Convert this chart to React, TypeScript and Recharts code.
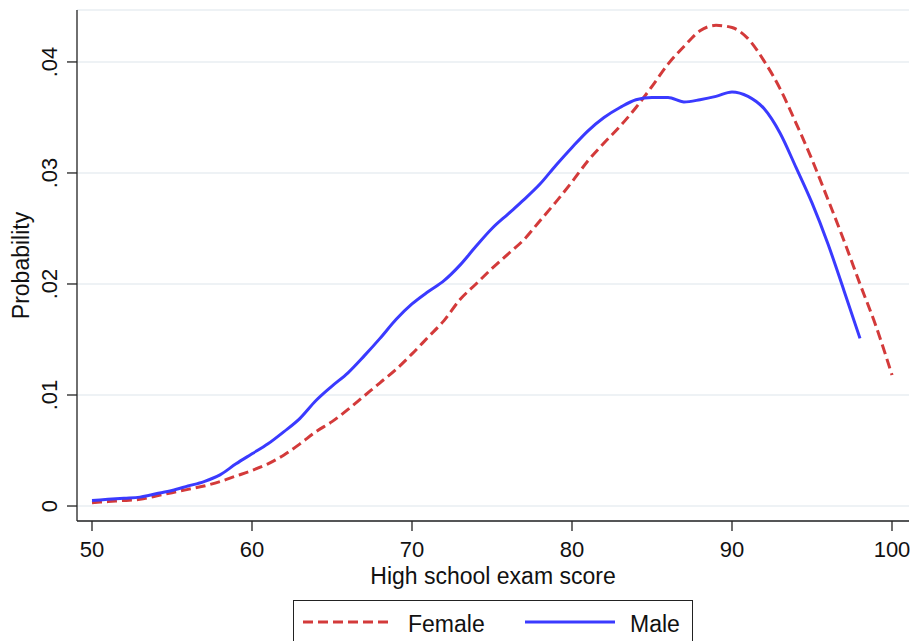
import React from "react";
import { CartesianGrid, Line, LineChart, XAxis, YAxis } from "recharts";

const scores = [
  50, 51, 52, 53, 54, 55, 56, 57, 58, 59, 60, 61, 62, 63, 64, 65, 66, 67, 68, 69, 70, 71, 72, 73, 74, 75,
  76, 77, 78, 79, 80, 81, 82, 83, 84, 85, 86, 87, 88, 89, 90, 91, 92, 93, 94, 95, 96, 97, 98, 99, 100,
];

const female = [
  0.0003, 0.0004, 0.0005, 0.0006, 0.0009, 0.0012, 0.0015, 0.0018, 0.0022, 0.0027, 0.0032, 0.0038, 0.0046,
  0.0056, 0.0067, 0.0076, 0.0087, 0.0099, 0.0111, 0.0123, 0.0137, 0.0152, 0.0167, 0.0186, 0.02, 0.0214,
  0.0227, 0.024, 0.0257, 0.0274, 0.0292, 0.0311, 0.0327, 0.0342, 0.0359, 0.0378, 0.0398, 0.0414, 0.0428,
  0.0433, 0.0431, 0.0421, 0.0401, 0.0376, 0.0345, 0.0312, 0.0276, 0.0239, 0.02, 0.0162, 0.0118,
];

// male curve stops at 98
const male = [
  0.0005, 0.0006, 0.0007, 0.0008, 0.0011, 0.0014, 0.0018, 0.0022, 0.0028, 0.0038, 0.0047, 0.0056, 0.0067,
  0.0079, 0.0095, 0.0108, 0.012, 0.0135, 0.0151, 0.0168, 0.0182, 0.0193, 0.0203, 0.0217, 0.0234, 0.025,
  0.0263, 0.0276, 0.029, 0.0307, 0.0323, 0.0338, 0.035, 0.0359, 0.0366, 0.0368, 0.0368, 0.0364, 0.0366,
  0.0369, 0.0373, 0.0369, 0.0358, 0.0336, 0.0305, 0.0273, 0.0236, 0.0194, 0.0151,
];

const xTicks = [50, 60, 70, 80, 90, 100];
const yTicks = [0, 0.01, 0.02, 0.03, 0.04];

const FONT = "'Liberation Sans', Arial, sans-serif";
const RED = "#d33a3a";
const BLUE = "#3a3aff";

const data = scores.map((s, i) => ({
  score: s,
  female: female[i],
  male: i < male.length ? male[i] : null,
}));

const fmtY = (v: number) => (v === 0 ? "0" : String(v).replace(/^0/, ""));

const YTick = (props: any) => {
  const { x, y, payload } = props;
  return (
    <text
      x={x}
      y={y}
      transform={`rotate(-90, ${x}, ${y})`}
      textAnchor="middle"
      fontSize={22}
      fontFamily={FONT}
      fill="#111"
    >
      {fmtY(payload.value)}
    </text>
  );
};

const YTitle = (props: any) => {
  const vb = props.viewBox;
  const x = vb.x + 29;
  const y = vb.y + vb.height / 2;
  return (
    <text
      x={x}
      y={y}
      transform={`rotate(-90, ${x}, ${y})`}
      textAnchor="middle"
      fontSize={23}
      fontFamily={FONT}
      fill="#111"
    >
      Probability
    </text>
  );
};

const legendItems = [
  { name: "Female", color: RED, dash: "10 5", x: 10 },
  { name: "Male", color: BLUE, dash: undefined, x: 232 },
];

export default function App() {
  return (
    <div style={{ position: "absolute", left: 0, top: 0, width: 916, height: 641, overflow: "hidden", background: "#fff" }}>
      <LineChart width={916} height={641} data={data} margin={{ top: 10, right: 7, bottom: 60, left: 0 }}>
        <CartesianGrid horizontal vertical={false} stroke="#e8eef2" strokeWidth={1.5} />
        <XAxis
          dataKey="score"
          type="number"
          domain={[50, 100]}
          ticks={xTicks}
          padding={{ left: 15, right: 17 }}
          height={60}
          tickSize={10}
          tickMargin={10}
          stroke="#222"
          strokeWidth={1.3}
          tick={{ fontSize: 22, fontFamily: FONT, fill: "#111" }}
          label={{
            value: "High school exam score",
            position: "insideBottom",
            offset: -3,
            fontSize: 23,
            fontFamily: FONT,
            fill: "#111",
          }}
        />
        <YAxis
          type="number"
          domain={[-0.00135, 0.04468]}
          allowDataOverflow
          ticks={yTicks}
          width={77}
          tickSize={10}
          tickMargin={10}
          stroke="#222"
          strokeWidth={1.3}
          tick={<YTick />}
          label={<YTitle />}
        />
        <Line
          dataKey="female"
          type="monotone"
          stroke={RED}
          strokeWidth={3}
          strokeDasharray="10 5"
          dot={false}
          activeDot={false}
          isAnimationActive={false}
        />
        <Line
          dataKey="male"
          type="monotone"
          stroke={BLUE}
          strokeWidth={3}
          dot={false}
          activeDot={false}
          connectNulls={false}
          isAnimationActive={false}
        />
      </LineChart>
      <div
        style={{
          position: "absolute",
          left: 293,
          top: 600,
          width: 400,
          height: 60,
          border: "1.5px solid #222",
          boxSizing: "border-box",
          background: "#fff",
        }}
      >
        <svg width={400} height={60} style={{ position: "absolute", left: -1, top: -1 }}>
          {legendItems.map((it) => (
            <g key={it.name}>
              <line x1={it.x} x2={it.x + 90} y1={22} y2={22} stroke={it.color} strokeWidth={3} strokeDasharray={it.dash} />
              <text x={it.x + 105} y={32} fontSize={23} fontFamily={FONT} fill="#111">
                {it.name}
              </text>
            </g>
          ))}
        </svg>
      </div>
    </div>
  );
}
